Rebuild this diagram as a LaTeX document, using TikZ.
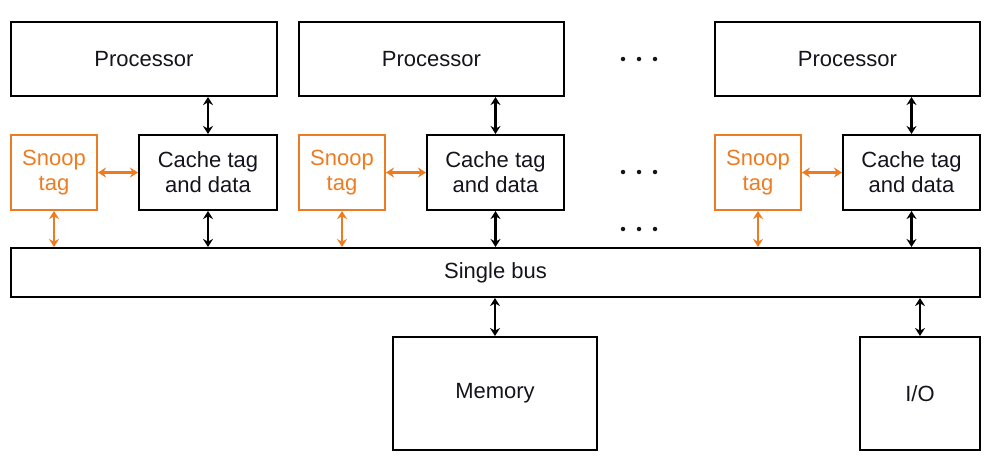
\documentclass[tikz,border=0pt]{standalone}
\usepackage{fontspec}
\setmainfont{Liberation Sans}
\usetikzlibrary{arrows.meta}
\definecolor{snoop}{RGB}{236,124,34}
\definecolor{txt}{RGB}{20,20,30}
\begin{document}
\begin{tikzpicture}[x=1pt,y=-1pt,
  box/.style={draw=black, line width=2pt, rectangle, inner sep=0pt, align=center, font=\fontsize{22}{25}\selectfont, text=txt},
  sbox/.style={draw=snoop, line width=2pt, rectangle, inner sep=0pt, align=center, font=\fontsize{22}{25}\selectfont, text=snoop},
  link/.style={line width=2.8pt, {Stealth[length=8pt,width=10pt]}-{Stealth[length=8pt,width=10pt]}},
  slink/.style={link, draw=snoop, color=snoop},
  dot/.style={circle, fill=txt, inner sep=0pt, minimum size=4.5pt}]
\useasboundingbox (0,0) rectangle (1000,469);
% processors
\node[box, minimum width=266pt, minimum height=74pt] (p1) at (144,59) {Processor};
\node[box, minimum width=265pt, minimum height=74pt] (p2) at (431.5,59) {Processor};
\node[box, minimum width=265pt, minimum height=74pt] (p3) at (847.5,59) {Processor};
% caches
\node[box, minimum width=138pt, minimum height=75pt] (c1) at (208,172.5) {Cache tag\\and data};
\node[box, minimum width=137pt, minimum height=75pt] (c2) at (495.5,172.5) {Cache tag\\and data};
\node[box, minimum width=137pt, minimum height=75pt] (c3) at (911.5,172.5) {Cache tag\\and data};
% snoop tags
\node[sbox, minimum width=86pt, minimum height=75pt] (s1) at (54,172.5) {Snoop\\tag};
\node[sbox, minimum width=86pt, minimum height=75pt] (s2) at (342,172.5) {Snoop\\tag};
\node[sbox, minimum width=86pt, minimum height=75pt] (s3) at (758,172.5) {Snoop\\tag};
% bus
\node[box, minimum width=969pt, minimum height=49pt] (bus) at (495.5,272.5) {Single bus};
% memory and io
\node[box, minimum width=204pt, minimum height=113pt] (mem) at (495,393.5) {Memory};
\node[box, minimum width=120pt, minimum height=113pt] (io) at (920,393.5) {I/O};
% dots
\foreach \r/\y in {1/59,2/172,3/229}{
  \node[dot] (d\r a) at (623,\y) {};
  \node[dot] (d\r b) at (639,\y) {};
  \node[dot] (d\r c) at (655,\y) {};
}
% links
\foreach \i in {1,2,3}{
  \draw[link] (p\i.south -| c\i.north) -- (c\i.north);
  \draw[link] (c\i.south) -- (c\i.south |- bus.north);
  \draw[slink] (s\i.east) -- (c\i.west);
  \draw[slink] (s\i.south) -- (s\i.south |- bus.north);
}
\draw[link] (bus.south -| mem.north) -- (mem.north);
\draw[link] (bus.south -| io.north) -- (io.north);
\end{tikzpicture}
\end{document}
